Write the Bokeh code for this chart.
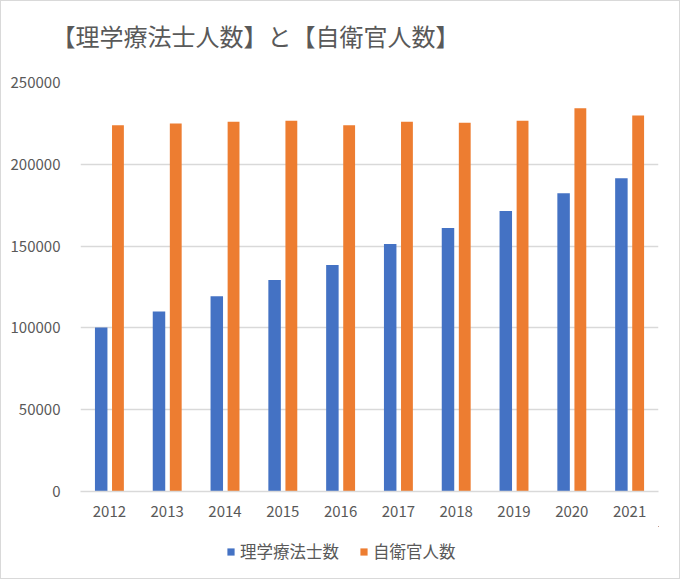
from bokeh.plotting import figure
from bokeh.models import (Range1d, FactorRange, ColumnDataSource, FixedTicker,
                          BasicTickFormatter, Title)
from bokeh.transform import dodge
from bokeh.layouts import column
from bokeh.embed import file_html
from bokeh.resources import INLINE

years = ["2012", "2013", "2014", "2015", "2016", "2017", "2018", "2019", "2020", "2021"]
pt_counts = [100300, 110000, 119400, 129300, 138500, 151300, 161000, 171400, 182300, 191500]
sdf_counts = [223800, 225000, 226000, 226600, 223800, 226000, 225400, 226600, 234300, 229900]
y_ticks = [0, 50000, 100000, 150000, 200000, 250000]
title_text = "【理学療法士人数】と【自衛官人数】"
series_names = ["理学療法士数", "自衛官人数"]
colors = ["#4472C4", "#ED7D31"]

FONT = "Noto Sans CJK JP"
GRAY = "#595959"

src = ColumnDataSource(dict(year=years, pt=pt_counts, sdf=sdf_counts))

p = figure(width=678, height=525, output_backend="svg", toolbar_location=None,
           x_range=FactorRange(factors=years, range_padding=0),
           y_range=Range1d(0, 250000),
           min_border_left=79, min_border_right=21, min_border_top=81, min_border_bottom=35)
p.outline_line_color = None
p.background_fill_color = "white"
p.border_fill_color = "white"

# spacer (inner) + main title (outer)
p.add_layout(Title(text=" ", text_font_size="10px", standoff=17), "above")
p.add_layout(Title(text=title_text, text_font=FONT, text_font_size="24px",
                   text_font_style="normal", text_color=GRAY, align="left",
                   offset=-29, standoff=0), "above")

p.vbar(x=dodge("year", -0.142, range=p.x_range), top="pt", width=0.216,
       source=src, fill_color=colors[0], line_color=None)
p.vbar(x=dodge("year", 0.148, range=p.x_range), top="sdf", width=0.205,
       source=src, fill_color=colors[1], line_color=None)

# axes
p.yaxis.ticker = FixedTicker(ticks=y_ticks)
p.yaxis.formatter = BasicTickFormatter(use_scientific=False)
for ax in (p.xaxis[0], p.yaxis[0]):
    ax.major_tick_line_color = None
    ax.minor_tick_line_color = None
    ax.major_label_text_font = FONT
    ax.major_label_text_font_size = "15px"
    ax.major_label_text_color = GRAY
p.yaxis.axis_line_color = None
p.yaxis.major_label_standoff = 14
p.xaxis.axis_line_color = "#d9d9d9"
p.xaxis.axis_line_width = 1.5
p.xaxis.major_label_standoff = 8

p.xgrid.grid_line_color = None
p.ygrid.grid_line_color = "#d9d9d9"
p.ygrid.grid_line_width = 1.3
p.ygrid.ticker = FixedTicker(ticks=y_ticks)

# legend strip below the chart (proxy bars: zero height, shifted far outside the view)
lg = figure(width=678, height=52, output_backend="svg", toolbar_location=None,
            x_range=FactorRange(factors=years), y_range=Range1d(-2, -1),
            x_axis_type=None, y_axis_type=None,
            min_border_left=0, min_border_right=0, min_border_top=0, min_border_bottom=0)
lg.outline_line_color = None
lg.grid.visible = False
lg.background_fill_color = "white"
lg.border_fill_color = "white"
lg.vbar(x=dodge("year", 60, range=lg.x_range), top="pt", bottom="pt", width=0.2,
        source=src, fill_color=colors[0], line_color=None, legend_label=series_names[0])
lg.vbar(x=dodge("year", 60, range=lg.x_range), top="sdf", bottom="sdf", width=0.2,
        source=src, fill_color=colors[1], line_color=None, legend_label=series_names[1])
leg = lg.legend[0]
leg.orientation = "horizontal"
leg.location = (146, 15)
leg.label_text_font = FONT
leg.label_text_font_size = "16.5px"
leg.label_text_color = GRAY
leg.glyph_width = 9
leg.glyph_height = 9
leg.label_standoff = 5
leg.spacing = 20
leg.border_line_color = None
leg.background_fill_color = None
leg.margin = 0
leg.padding = 2

layout = column(p, lg, spacing=0, styles={"border": "1px solid #d9d9d9"})

open("out.html", "w").write(file_html(layout, INLINE))
